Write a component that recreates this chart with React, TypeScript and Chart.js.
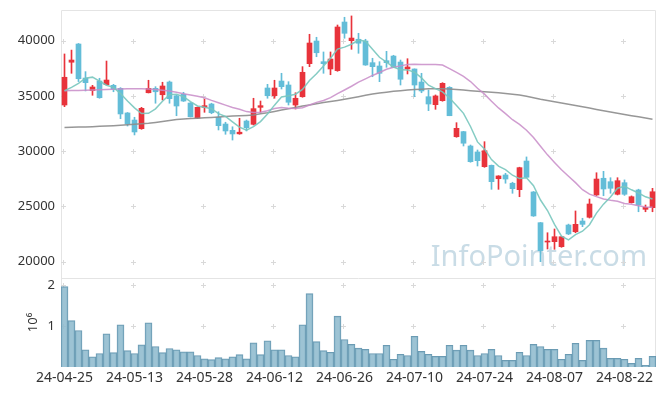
import React, { useEffect, useRef } from 'react';
import { Chart, registerables } from 'chart.js';

Chart.register(...registerables);

const dates = [
  '24-04-25', '24-04-26', '24-04-29', '24-04-30', '24-05-02', '24-05-03', '24-05-07', '24-05-08', '24-05-09', '24-05-10',
  '24-05-13', '24-05-14', '24-05-16', '24-05-17', '24-05-20', '24-05-21', '24-05-22', '24-05-23', '24-05-24', '24-05-27',
  '24-05-28', '24-05-29', '24-05-30', '24-05-31', '24-06-03', '24-06-04', '24-06-05', '24-06-07', '24-06-10', '24-06-11',
  '24-06-12', '24-06-13', '24-06-14', '24-06-17', '24-06-18', '24-06-19', '24-06-20', '24-06-21', '24-06-24', '24-06-25',
  '24-06-26', '24-06-27', '24-06-28', '24-07-01', '24-07-02', '24-07-03', '24-07-04', '24-07-05', '24-07-08', '24-07-09',
  '24-07-10', '24-07-11', '24-07-12', '24-07-15', '24-07-16', '24-07-17', '24-07-18', '24-07-19', '24-07-22', '24-07-23',
  '24-07-24', '24-07-25', '24-07-26', '24-07-29', '24-07-30', '24-07-31', '24-08-01', '24-08-02', '24-08-05', '24-08-06',
  '24-08-07', '24-08-08', '24-08-09', '24-08-12', '24-08-13', '24-08-14', '24-08-16', '24-08-19', '24-08-20', '24-08-21',
  '24-08-22', '24-08-23', '24-08-26', '24-08-27', '24-08-28',
];

const opens = [
  34180, 38050, 39700, 36620, 35480, 36350, 36020, 35960, 35690, 33460,
  32820, 32040, 35290, 35690, 35110, 36260, 35020, 35150, 34360, 33000,
  33970, 34270, 33070, 32460, 31890, 31570, 32730, 32430, 33970, 35720,
  35020, 36350, 35990, 34180, 34930, 37920, 39970, 38100, 37440, 37290,
  41690, 40000, 40130, 39970, 38010, 37710, 38190, 38610, 38070, 37440,
  37440, 36260, 34930, 34210, 34570, 35780, 31310, 31770, 30470, 29930,
  28600, 28720, 27510, 27850, 27100, 26520, 29110, 26310, 23530, 21780,
  21810, 21360, 23320, 22710, 23680, 24020, 26040, 27550, 27240, 26100,
  27150, 25340, 26490, 24740, 24890,
];

const highs = [
  38800, 39150, 39750, 37200, 35960, 36600, 38160, 36050, 35750, 33500,
  33070, 33970, 36420, 35840, 36240, 36350, 35050, 35330, 34400, 34000,
  34720, 34340, 33570, 32620, 32210, 32980, 32820, 34790, 34540, 36050,
  36420, 37050, 36290, 35290, 37650, 40580, 40310, 38980, 38980, 41420,
  42120, 42240, 40670, 40130, 38410, 38100, 39040, 38680, 38250, 38370,
  37450, 37050, 35540, 35090, 36200, 35840, 32580, 31800, 30560, 30110,
  30860, 28750, 27780, 28000, 27190, 28550, 29480, 26350, 23550, 22620,
  22960, 22300, 23400, 24590, 23930, 25670, 28050, 28180, 27600, 27600,
  27400, 25950, 26560, 25130, 26640,
];

const lows = [
  34030, 37050, 36300, 35450, 35060, 34790, 35990, 35380, 32940, 32280,
  31470, 31980, 35270, 34340, 34630, 34340, 33210, 34500, 33100, 32950,
  33520, 33390, 31920, 31530, 31010, 31530, 31830, 32370, 33520, 34790,
  34790, 35630, 34180, 33820, 34880, 37650, 38550, 37050, 36920, 37230,
  40220, 39220, 38860, 37770, 36740, 36290, 37590, 37590, 35990, 36990,
  34930, 35290, 33670, 33790, 34520, 33210, 31260, 30470, 29000, 28660,
  28540, 26550, 26550, 27100, 26190, 25880, 27600, 24100, 20000, 21150,
  21120, 21300, 22450, 22620, 23170, 23950, 25990, 25970, 26190, 26040,
  26000, 25300, 24520, 24520, 24520,
];

const closes = [
  36690, 38250, 36560, 36200, 35810, 34840, 36440, 35600, 33370, 32460,
  31740, 33880, 35690, 35380, 35900, 34750, 34090, 34540, 33120, 33970,
  34120, 33480, 32310, 31830, 31560, 31720, 32130, 33850, 34120, 35020,
  35720, 35840, 34430, 34790, 37140, 39790, 38910, 37920, 38340, 41240,
  40670, 40240, 39770, 37800, 37650, 37050, 38010, 37590, 36510, 37620,
  35990, 35450, 34270, 35000, 36140, 33210, 32070, 30720, 29050, 29140,
  30040, 27240, 27760, 27480, 26610, 28510, 27640, 24140, 21000, 21870,
  22260, 22260, 22510, 23380, 23380, 25220, 27480, 26580, 26640, 27330,
  26100, 25880, 25130, 24920, 26330,
];

// volume in millions of shares (axis unit 10^6)
const volumes = [
  1.96, 1.13, 0.89, 0.42, 0.25, 0.33, 0.81, 0.35, 1.03, 0.40,
  0.33, 0.54, 1.08, 0.50, 0.35, 0.45, 0.42, 0.37, 0.37, 0.28,
  0.20, 0.18, 0.23, 0.20, 0.25, 0.30, 0.20, 0.59, 0.30, 0.64,
  0.42, 0.42, 0.28, 0.25, 1.03, 1.79, 0.62, 0.40, 0.36, 1.24,
  0.67, 0.55, 0.46, 0.43, 0.33, 0.33, 0.53, 0.19, 0.31, 0.28,
  0.75, 0.38, 0.31, 0.26, 0.26, 0.53, 0.41, 0.53, 0.41, 0.28,
  0.33, 0.43, 0.28, 0.16, 0.16, 0.36, 0.28, 0.55, 0.50, 0.43,
  0.43, 0.19, 0.31, 0.58, 0.16, 0.65, 0.65, 0.46, 0.21, 0.21,
  0.19, 0.09, 0.21, 0.04, 0.26,
];

const ma5 = [
  35470, 35780, 36140, 36600, 36702, 36332, 35970, 35778, 35212, 34542,
  33922, 33410, 33428, 33830, 34518, 35120, 35162, 34932, 34480, 34094,
  33968, 33846, 33400, 33142, 32660, 32180, 31910, 32218, 32676, 33368,
  34168, 34910, 35026, 35160, 35584, 36398, 37012, 37710, 38420, 39240,
  39416, 39682, 40052, 39944, 39226, 38502, 38056, 37620, 37362, 37356,
  37144, 36632, 35968, 35666, 35370, 34814, 34138, 33428, 32238, 30838,
  30204, 29238, 28646, 28332, 27826, 27520, 27600, 26876, 25580, 24632,
  23382, 22306, 21980, 22456, 22758, 23350, 24394, 25208, 25860, 26650,
  26826, 26506, 26216, 25872, 25672,
];

const ma20 = [
  35480, 35490, 35500, 35520, 35540, 35560, 35580, 35600, 35620, 35640,
  35650, 35640, 35620, 35580, 35520, 35440, 35330, 35200, 35080, 34964,
  34836, 34597, 34385, 34166, 33954, 33798, 33582, 33495, 33532, 33660,
  33859, 33957, 33894, 33865, 33927, 34179, 34420, 34589, 34850, 35213,
  35541, 35879, 36252, 36550, 36855, 37121, 37415, 37602, 37722, 37852,
  37865, 37846, 37838, 37848, 37798, 37469, 37127, 36767, 36303, 35698,
  35166, 34516, 33916, 33400, 32848, 32421, 31902, 31230, 30454, 29667,
  28980, 28321, 27733, 27152, 26514, 26114, 25885, 25678, 25557, 25467,
  25270, 25202, 25070, 24942, 24928,
];

const ma120 = [
  32140, 32160, 32180, 32200, 32220, 32250, 32280, 32310, 32350, 32390,
  32430, 32480, 32530, 32600, 32680, 32770, 32860, 32910, 32950, 32980,
  33020, 33060, 33100, 33140, 33180, 33210, 33240, 33280, 33380, 33480,
  33600, 33720, 33840, 33960, 34080, 34190, 34300, 34400, 34490, 34590,
  34700, 34810, 34930, 35060, 35170, 35260, 35340, 35420, 35480, 35530,
  35580, 35610, 35640, 35650, 35650, 35630, 35590, 35540, 35480, 35420,
  35370, 35330, 35290, 35230, 35160, 35080, 34970, 34840, 34700, 34580,
  34470, 34360, 34250, 34140, 34020, 33900, 33780, 33660, 33540, 33430,
  33320, 33210, 33110, 33010, 32900,
];

const priceTicks = [20000, 25000, 30000, 35000, 40000];
const volumeTicks = [1, 2];
const labelEvery = 10;
const volumeUnit = '10⁶';
const watermark = 'InfoPointer.com';

const UP = '#e8333b';
const DOWN = '#63bdd8';
const FONT = 'Noto Sans';
const TEXT = '#333333';

const noPad = (s: any) => {
  s.paddingTop = 0;
  s.paddingBottom = 0;
  s.paddingLeft = 0;
  s.paddingRight = 0;
};

const decorPlugin = {
  id: 'decor',
  beforeDatasetsDraw(chart: any) {
    const { ctx, chartArea: a, scales } = chart;
    const x = scales.x;
    const y = scales.y;
    const yv = scales.yv;
    ctx.save();
    // watermark
    ctx.font = `29px "${FONT}"`;
    ctx.fillStyle = '#c9dce6';
    ctx.textAlign = 'right';
    ctx.textBaseline = 'alphabetic';
    ctx.fillText(watermark, a.right - 9, y.bottom - 12.5);
    // frame
    ctx.strokeStyle = '#e4e4e4';
    ctx.lineWidth = 1;
    ctx.beginPath();
    ctx.moveTo(Math.round(a.left) + 0.5, a.bottom);
    ctx.lineTo(Math.round(a.left) + 0.5, Math.round(a.top) + 0.5);
    ctx.lineTo(Math.round(a.right) - 0.5, Math.round(a.top) + 0.5);
    ctx.lineTo(Math.round(a.right) - 0.5, a.bottom);
    ctx.moveTo(a.left, Math.round(y.bottom) + 0.5);
    ctx.lineTo(a.right, Math.round(y.bottom) + 0.5);
    ctx.stroke();
    // grid crosses
    ctx.strokeStyle = '#d9d9d9';
    ctx.beginPath();
    for (let i = 0; i < dates.length; i += labelEvery) {
      const px = Math.round(x.getPixelForValue(i) - 1.5) + 0.5;
      const ys = [
        ...priceTicks.map((v) => y.getPixelForValue(v)),
        ...volumeTicks.map((v) => yv.getPixelForValue(v)),
      ];
      ys.forEach((p: number) => {
        const py = Math.round(p) + 0.5;
        ctx.moveTo(px - 2.5, py);
        ctx.lineTo(px + 2.5, py);
        ctx.moveTo(px, py - 2.5);
        ctx.lineTo(px, py + 2.5);
      });
    }
    ctx.stroke();
    ctx.restore();
  },
};

export default function App() {
  const ref = useRef<HTMLCanvasElement>(null);

  useEffect(() => {
    if (!ref.current) return;
    Chart.defaults.font.family = FONT;
    const candleColors = closes.map((c, i) => (c >= opens[i] ? UP : DOWN));
    const chart = new Chart(ref.current, {
      type: 'bar',
      data: {
        labels: dates,
        datasets: [
          {
            type: 'line',
            label: 'MA5',
            data: ma5,
            yAxisID: 'y',
            borderColor: 'rgba(120,198,190,0.9)',
            borderWidth: 1.5,
            pointRadius: 0,
            tension: 0,
            order: 0,
          } as any,
          {
            type: 'line',
            label: 'MA20',
            data: ma20,
            yAxisID: 'y',
            borderColor: 'rgba(200,140,200,0.85)',
            borderWidth: 1.5,
            pointRadius: 0,
            tension: 0,
            order: 0,
          } as any,
          {
            type: 'line',
            label: 'MA120',
            data: ma120,
            yAxisID: 'y',
            borderColor: 'rgba(140,140,140,0.9)',
            borderWidth: 1.5,
            pointRadius: 0,
            tension: 0,
            order: 0,
          } as any,
          {
            label: 'body',
            data: opens.map((o, i) => [o, closes[i]]),
            yAxisID: 'y',
            backgroundColor: candleColors,
            borderWidth: 0,
            barThickness: 5,
            grouped: false,
            order: 1,
          } as any,
          {
            label: 'wick',
            data: lows.map((l, i) => [l, highs[i]]),
            yAxisID: 'y',
            backgroundColor: candleColors,
            borderWidth: 0,
            barThickness: 1,
            grouped: false,
            order: 2,
          } as any,
          {
            label: 'volume',
            data: volumes,
            yAxisID: 'yv',
            backgroundColor: 'rgba(140,184,204,0.85)',
            borderColor: 'rgba(70,130,160,0.8)',
            borderWidth: { top: 1, left: 1, right: 1, bottom: 0 },
            barPercentage: 1,
            categoryPercentage: 1,
            grouped: false,
            order: 3,
          } as any,
        ],
      },
      options: {
        responsive: false,
        animation: false,
        events: [],
        layout: { padding: { top: 10, right: 9, bottom: 0, left: 0 } },
        plugins: { legend: { display: false }, tooltip: { enabled: false } },
        scales: {
          x: {
            type: 'category',
            offset: true,
            grid: { display: false, drawTicks: false },
            border: { display: false },
            ticks: {
              autoSkip: false,
              maxRotation: 0,
              minRotation: 0,
              padding: 3,
              color: TEXT,
              font: { family: FONT, size: 14 },
              callback: (_v: any, i: number) => (i % labelEvery === 0 ? dates[i] : ''),
            },
            afterFit: (s: any) => {
              s.height = 29;
              noPad(s);
            },
          },
          yv: {
            type: 'linear',
            position: 'left',
            stack: 'panes',
            stackWeight: 89,
            min: 0,
            max: 2.17,
            grid: { display: false, drawTicks: false },
            border: { display: false },
            ticks: {
              padding: 6,
              color: TEXT,
              font: { family: FONT, size: 13 },
              callback: (v: any) => String(v),
            },
            afterBuildTicks: (s: any) => {
              s.ticks = volumeTicks.map((v) => ({ value: v }));
            },
            afterFit: (s: any) => {
              s.width = 61;
              noPad(s);
            },
            title: {
              display: true,
              text: volumeUnit,
              color: TEXT,
              font: { family: FONT, size: 13 },
              padding: { top: 25, bottom: 0 },
            },
          },
          y: {
            type: 'linear',
            position: 'left',
            stack: 'panes',
            stackWeight: 268,
            min: 18524,
            max: 42778,
            grid: { display: false, drawTicks: false },
            border: { display: false },
            ticks: {
              padding: 6,
              color: TEXT,
              font: { family: FONT, size: 13 },
              callback: (v: any) => String(v),
            },
            afterBuildTicks: (s: any) => {
              s.ticks = priceTicks.map((v) => ({ value: v }));
            },
            afterFit: (s: any) => {
              s.width = 61;
              noPad(s);
            },
          },
        } as any,
      },
      plugins: [decorPlugin],
    } as any);
    return () => chart.destroy();
  }, []);

  return (
    <div style={{ position: 'fixed', left: 0, top: 0, width: 665, height: 396, background: '#ffffff' }}>
      <canvas ref={ref} width={665} height={396} style={{ display: 'block' }} />
    </div>
  );
}
